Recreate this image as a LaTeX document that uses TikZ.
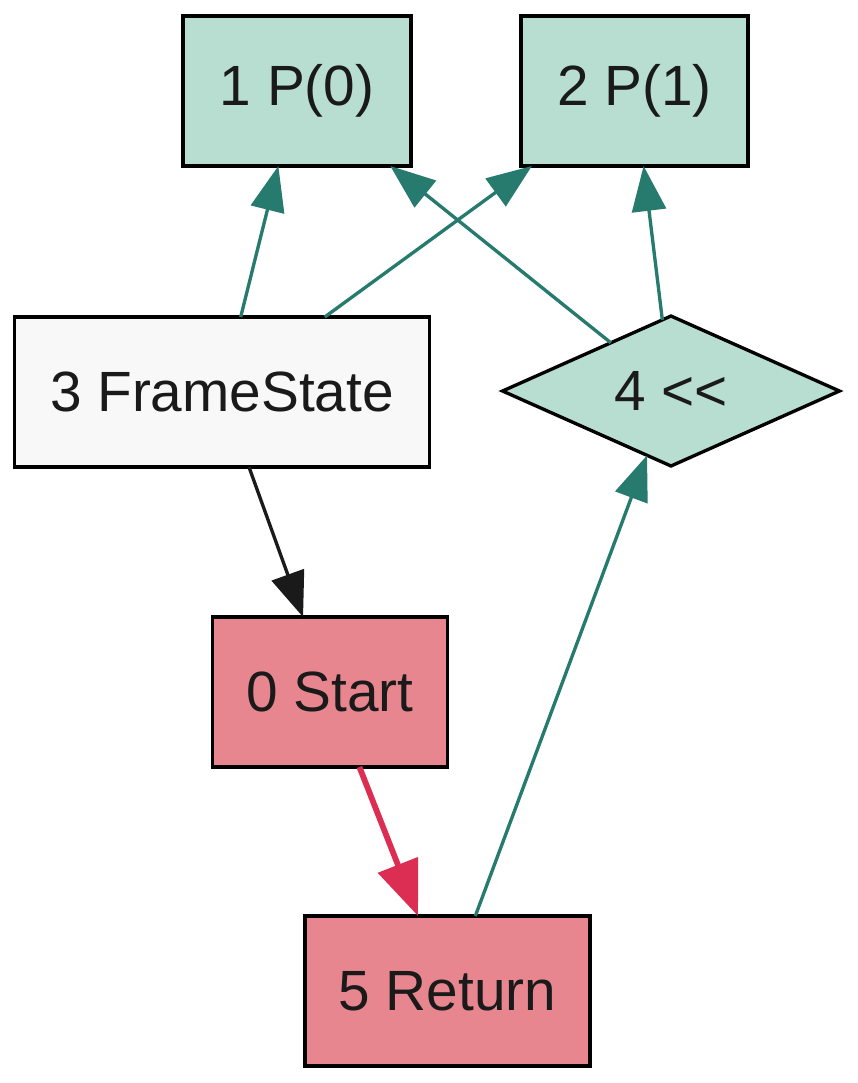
\documentclass[tikz,border=0pt]{standalone}
\usepackage{fontspec}
\setmainfont{Liberation Sans}
\usepackage{tikz}
\usepackage{xcolor}
\usetikzlibrary{shapes.geometric,arrows.meta}
\definecolor{teal-fill}{HTML}{B8DED2}
\definecolor{teal-line}{HTML}{267A6E}
\definecolor{red-fill}{HTML}{E8868F}
\definecolor{red-line}{HTML}{DC2E52}
\definecolor{gray-fill}{HTML}{F8F8F8}
\definecolor{ink}{HTML}{1A1A1A}
\tikzset{
    graph-node/.style = {draw=black, line width=1.9pt, inner sep=0pt, outer sep=0pt, minimum height=3cm, text=ink, font=\fontsize{32.3}{38}\selectfont},
    teal-box/.style = {graph-node, rectangle, fill=teal-fill},
    red-box/.style = {graph-node, rectangle, fill=red-fill},
    plain-box/.style = {graph-node, rectangle, fill=gray-fill},
    teal-diamond/.style = {graph-node, diamond, aspect=2.25, fill=teal-fill},
    teal-edge/.style = {draw=teal-line, line width=1.9pt, -{Triangle[length=0.9cm, width=0.68cm]}},
    black-edge/.style = {draw=ink, line width=1.9pt, -{Triangle[length=0.9cm, width=0.68cm]}},
    red-edge/.style = {draw=red-line, line width=3.3pt, -{Triangle[length=1.1cm, width=0.84cm]}},
}

\begin{document}
\begin{tikzpicture}[x=0.02cm, y=-0.02cm]
\useasboundingbox (0,0) rectangle (858,1083);
% parameter nodes
\node[teal-box, minimum width=4.56cm] (p0) at (297,91) {1 P(0)};
\node[teal-box, minimum width=4.54cm] (p1) at (634.5,91) {2 P(1)};
% middle row
\node[plain-box, minimum width=8.3cm] (fs) at (222,392) {3 FrameState};
\node[teal-diamond, minimum width=6.74cm, minimum height=3cm] (shl) at (671,391) {4 {<}{<}};
% control nodes
\node[red-box, minimum width=4.7cm] (start) at (330,692) {0 Start};
\node[red-box, minimum width=5.7cm] (ret) at (447.5,991) {5 Return};

\draw[teal-edge] (fs) -- (p0);
\draw[teal-edge] (fs) -- (p1);
\draw[teal-edge] (shl) -- (p0);
\draw[teal-edge] (shl) -- (p1);
\draw[black-edge] (fs) -- (start);
\draw[red-edge] (start) -- (ret);
\draw[teal-edge] (ret) -- (shl);
\end{tikzpicture}
\end{document}
